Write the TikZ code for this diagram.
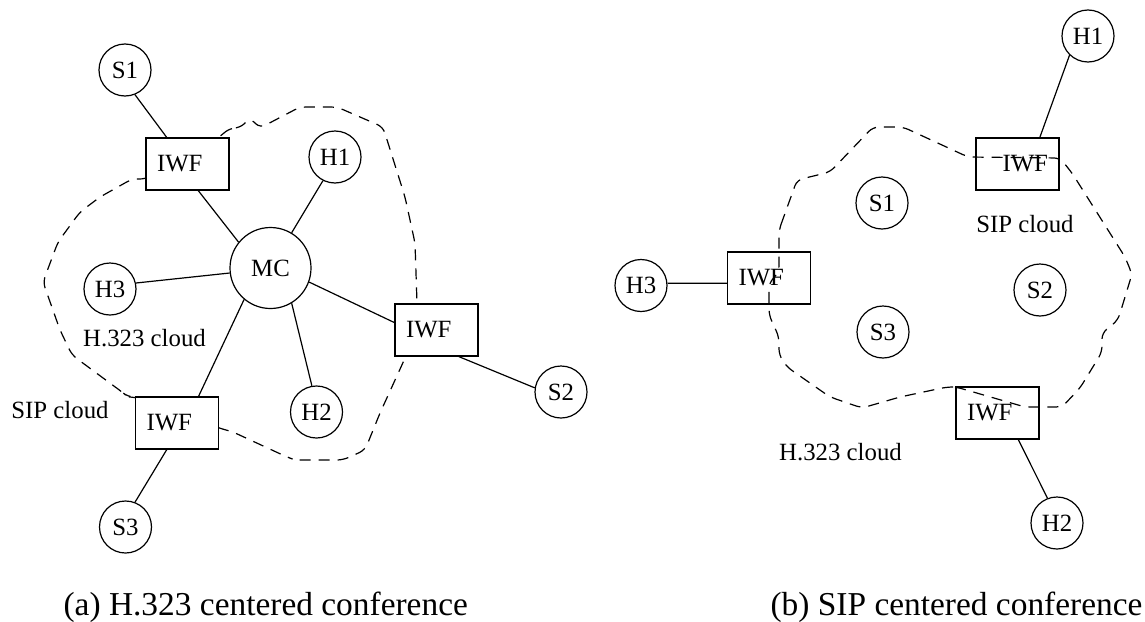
\documentclass[tikz,border=0pt]{standalone}
\usepackage{fontspec}
\setmainfont{Liberation Serif}

\begin{document}
\begin{tikzpicture}[x=0.5pt,y=-0.5pt,
    font=\fontsize{12.4}{14}\selectfont,
    line width=0.6pt,
    host/.style={draw,circle,inner sep=0pt,minimum size=26pt},
    iwf/.style={draw,rectangle,fill=white,minimum height=26pt,inner xsep=5.5pt,text width=30.5pt,align=left},
    cloud/.style={dash pattern=on 5.5pt off 4pt,rounded corners=3pt},
    tag/.style={inner sep=0pt,anchor=base},
    caption/.style={inner sep=0pt,anchor=base west,font=\fontsize{16.7}{20}\selectfont}]
    \useasboundingbox (0,0) rectangle (1145,621);

    % (a) H.323 centered conference
    \draw[cloud] (218,138) -- (230,128) -- (240,128) -- (250,118) -- (260,128) -- (300,107)
        -- (337,107) -- (383,127) -- (405,197) -- (415,243) -- (417,303) -- (406,356)
        -- (380,413) -- (365,450) -- (343,460) -- (295,460) -- (287,457) -- (233,432)
        -- (219,428) -- (135,397) -- (128,397) -- (122,392) -- (72,355) -- (60,330)
        -- (43,282) -- (58,242) -- (80,212) -- (100,197) -- (132,179) -- (146,179) -- cycle;
    \node[host] (s1a) at (125,70) {S1};
    \node[iwf] (iwf1a) at (187.5,164) {IWF};
    \node[host] (h1a) at (335,157) {H1};
    \node[host,minimum size=40.5pt] (mc) at (270.5,268) {MC};
    \node[host] (h3a) at (110,289) {H3};
    \node[iwf] (iwf2a) at (436.5,330) {IWF};
    \node[host] (s2a) at (561,392) {S2};
    \node[iwf] (iwf3a) at (177,423) {IWF};
    \node[host] (h2a) at (316.5,412) {H2};
    \node[host] (s3a) at (125.5,527) {S3};
    \node[tag] (h323a) at (144.5,346) {H.323 cloud};
    \node[tag] (sipa) at (60,418) {SIP cloud};
    \foreach \a/\b in {s1a.-68/iwf1a.128, iwf1a.-68/mc.141, h1a.-117/mc.59, h3a.13/mc.187,
                       mc.-20/iwf2a.170, iwf2a.-50/s2a.171, mc.-130/iwf3a.51,
                       mc.-59/h2a.100, iwf3a.-111/s3a.69}
        \draw (\a) -- (\b);
    \node[caption] (capa) at (63,615) {(a) H.323 centered conference};

    % (b) SIP centered conference
    \node[host] (h1b) at (1088,36) {H1};
    \node[iwf,fill=none,align=right] (iwf1b) at (1017.5,164) {IWF};
    \node[host] (s1b) at (882,203) {S1};
    \node[host] (h3b) at (641,285.5) {H3};
    \node[iwf,fill=none] (iwf3b) at (769,278) {IWF};
    \node[host] (s2b) at (1040,290) {S2};
    \node[host] (s3b) at (883,332) {S3};
    \node[iwf,fill=none] (iwf2b) at (997.5,413) {IWF};
    \node[host] (h2b) at (1057,523) {H2};
    \node[tag] (sipb) at (1025,232) {SIP cloud};
    \node[tag] (h323b) at (840.5,460) {H.323 cloud};
    \foreach \a/\b in {h3b.5/iwf3b.187, h1b.-134/iwf1b.50, iwf2b.-52/h2b.111}
        \draw (\a) -- (\b);
    \draw[cloud] (779,230) -- (797,180) -- (830,172) -- (873,127) -- (903,127) -- (968,157)
        -- (1060,158) -- (1072,173) -- (1125,257) -- (1132,274) -- (1118,320) -- (1102,333)
        -- (1102,352) -- (1080,388) -- (1062,407) -- (1025,407) -- (956,387) -- (947,387)
        -- (900,397) -- (862,408) -- (830,397) -- (787,367) -- (779,355) -- (779,337)
        -- (769,315) -- (769,283) -- (779,272) -- cycle;
    \node[caption] (capb) at (770,615) {(b) SIP centered conference};
\end{tikzpicture}
\end{document}
